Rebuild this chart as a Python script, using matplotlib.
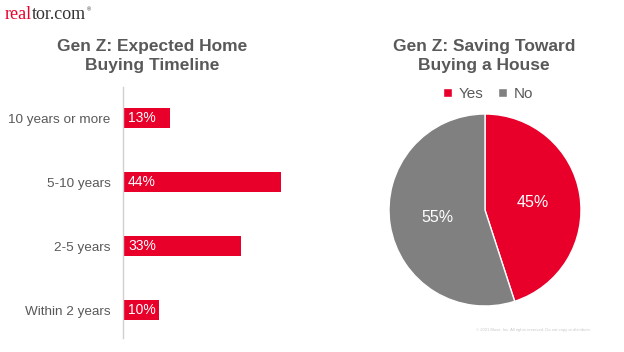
import matplotlib
matplotlib.use("Agg")
import matplotlib.pyplot as plt

# Data
timeline_categories = ["Within 2 years", "2-5 years", "5-10 years", "10 years or more"]
timeline_values = [10, 33, 44, 13]
saving_labels = ["Yes", "No"]
saving_values = [45, 55]

RED = "#E8002B"
GRAY = "#808080"
TEXT = "#595959"
FONT = "Liberation Sans"

W, H = 624, 352
fig = plt.figure(figsize=(W / 100, H / 100), dpi=100)
fig.patch.set_facecolor("white")

def fx(px):
    return px / W

def fy(py):
    return 1 - py / H

# ---- Bar chart ----
ax_left, ax_top, ax_bottom, ax_wpx = 123, 87, 338, 200
ax = fig.add_axes([fx(ax_left), fy(ax_bottom), ax_wpx / W, (ax_bottom - ax_top) / H])
ypos = list(range(len(timeline_categories)))
ax.barh(ypos, timeline_values, height=0.31, color=RED)
ax.set_xlim(0, ax_wpx / 3.59)
ax.set_ylim(-0.4375, 3 + 31 / 64)
for s in ["top", "right", "bottom"]:
    ax.spines[s].set_visible(False)
ax.spines["left"].set_color("#d0d0d0")
ax.spines["left"].set_linewidth(1.0)
ax.set_xticks([])
ax.set_yticks(ypos)
ax.set_yticklabels(timeline_categories, fontsize=9.7, color=TEXT, family=FONT)
ax.tick_params(axis="y", length=0, pad=9)
ax.patch.set_alpha(0)
for y, v in zip(ypos, timeline_values):
    ax.text(1.4, y, f"{v}%", color="white", fontsize=10, family=FONT,
            va="center", ha="left")

fig.text(fx(152), fy(56), "Gen Z: Expected Home\nBuying Timeline", ha="center", va="center",
         fontsize=12.5, fontweight="bold", color=TEXT, family=FONT, linespacing=1.3)

# ---- Pie chart ----
cx, cy, r = 485, 210, 96
pax = fig.add_axes([fx(cx - r), fy(cy + r), 2 * r / W, 2 * r / H])
wedges, texts, autotexts = pax.pie(
    saving_values, colors=[RED, GRAY], startangle=90, counterclock=False,
    autopct=lambda p: f"{p:.0f}%", pctdistance=0.5,
    wedgeprops=dict(edgecolor="white", linewidth=1.0),
    textprops=dict(color="white", fontsize=11.5, family=FONT))
pax.set_aspect("equal")
pax.set_xlim(-1, 1)
pax.set_ylim(-1, 1)

fig.text(fx(484), fy(56), "Gen Z: Saving Toward\nBuying a House", ha="center", va="center",
         fontsize=12.5, fontweight="bold", color=TEXT, family=FONT, linespacing=1.3)

leg = fig.legend(wedges, saving_labels, loc="center", bbox_to_anchor=(fx(488), fy(94)),
                 ncol=2, frameon=False, handlelength=0.6, handleheight=0.6,
                 handletextpad=0.4, columnspacing=1.0, prop=dict(family=FONT, size=11))
for t in leg.get_texts():
    t.set_color(TEXT)

# ---- Logo ----
t1 = fig.text(fx(5), fy(19), "real", color=RED, fontsize=13, family="Liberation Serif",
              ha="left", va="baseline")
t2 = fig.text(0, 0, "tor.com", color="#333333", fontsize=13, family="Liberation Serif",
              ha="left", va="baseline")
fig.canvas.draw()
bb = t1.get_window_extent()
t2.set_position((bb.x1 / W, fy(19)))
bb2 = t2.get_window_extent()
fig.text(bb2.x1 / W + 0.001, fy(10), "®", color="#333333", fontsize=4, family=FONT,
         ha="left", va="center")

# ---- Copyright ----
fig.text(fx(533), fy(330), "© 2021 Move, Inc. All rights reserved. Do not copy or distribute.",
         color="#c8c8c8", fontsize=3, family=FONT, ha="center", va="center")

fig.savefig("out.png", dpi=100, facecolor="white")
